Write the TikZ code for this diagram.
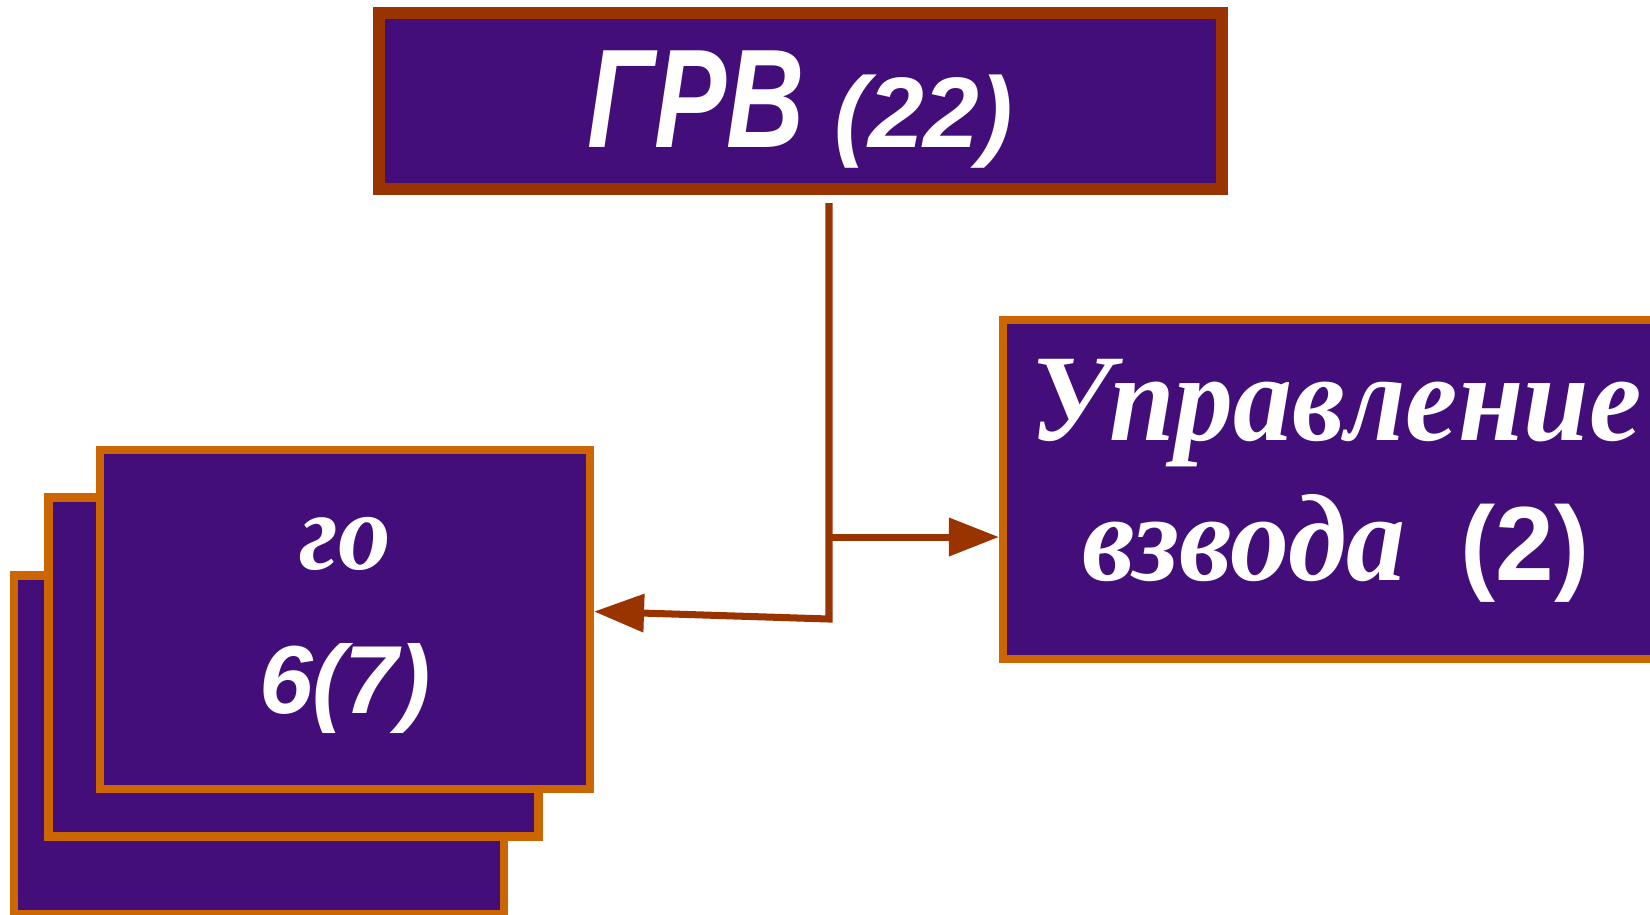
\documentclass[tikz,border=0pt]{standalone}
\usepackage{fontspec}
\setmainfont{Liberation Serif}
\setsansfont{Liberation Sans}
\newfontfamily\narrowsans[FakeStretch=0.77]{Liberation Sans}
\newfontfamily\narrowserif[FakeStretch=0.95]{Liberation Serif}
\usetikzlibrary{arrows.meta}
\definecolor{boxfill}{RGB}{68,14,122}
\definecolor{rust}{HTML}{993300}
\definecolor{amber}{HTML}{CC6600}

\begin{document}
\begin{tikzpicture}[>={Triangle[length=0.5cm, width=0.37cm]},
    panel/.style={draw=amber, fill=boxfill, line width=2.3pt, text=white,
      inner sep=0pt, minimum width=4.9cm, minimum height=3.39cm, align=center},
    link/.style={draw=rust, line width=2pt}
  ]
  \useasboundingbox (0,0) rectangle (16.5,-9.14);

  % Head box
  \node[panel, draw=rust, line width=3.2pt, minimum width=8.43cm, minimum height=1.76cm,
        text height=0.92cm, text depth=0cm] (grv) at (8.005,-1.01)
    {\narrowsans\bfseries\itshape\fontsize{40}{42}\selectfont ГРВ
     \sffamily\fontsize{28.5}{30}\selectfont(22)};

  % Stack of squad boxes, back to front
  \node[panel] (back) at (2.59,-7.45) {};
  \node[panel] (mid) at (2.935,-6.67) {};
  \node[panel, text height=1.87cm, text depth=0cm,
        font=\narrowserif\fontsize{31.5}{40.7}\selectfont] (front) at (3.45,-6.195)
    {{\bfseries\itshape го}\\
     {\sffamily\bfseries\itshape\fontsize{27.5}{40.7}\selectfont 6(7)}};

  % Platoon control box
  \node[panel, minimum width=6.66cm, text height=1.81cm, text depth=0cm,
        font=\narrowserif\fontsize{35.3}{39.8}\selectfont\bfseries\itshape] (ctrl) at (13.36,-4.895)
    {Управление\\
     взвода\hspace{0.55cm}{\sffamily\upshape\fontsize{30}{39.8}\selectfont(2)}};

  % Connectors
  \coordinate (top) at (8.29,-2.03);
  \coordinate (branch) at (8.29,-5.37);
  \coordinate (bend) at (8.29,-6.19);

  \draw[link, ->] (top) -- (bend) -- ([yshift=0.08cm]front.east);
  \draw[link, ->] (branch) -- (branch -| ctrl.west);

\end{tikzpicture}
\end{document}
